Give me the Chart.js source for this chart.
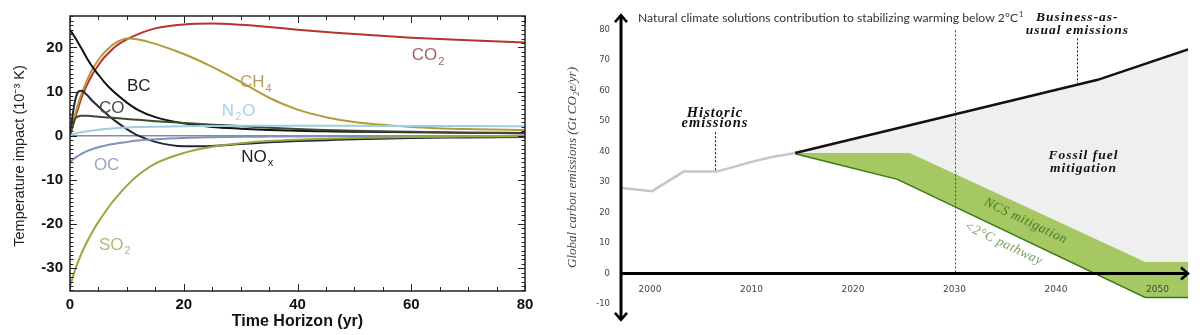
<!DOCTYPE html>
<html>
<head>
<meta charset="utf-8">
<script src="https://cdn.jsdelivr.net/npm/chart.js@4.4.1/dist/chart.umd.min.js"></script>
<style>
  html, body { margin: 0; padding: 0; background: #fff; }
  #wrap { position: relative; width: 1200px; height: 335px; overflow: hidden; }
  #impacto { position: absolute; left: 0; top: 0; }
  #emisiones { position: absolute; left: 550px; top: 0; }
</style>
</head>
<body>
<div id="wrap">
  <canvas id="impacto" width="550" height="335"></canvas>
  <canvas id="emisiones" width="650" height="335"></canvas>
</div>
<script>
// ---- temperature impact per species (10^-3 K) vs time horizon (yr)
var horizon = [0, 0.5, 1, 1.5, 2, 3, 4, 5, 6, 7, 8, 10, 12, 15, 20, 25, 30, 35, 40, 45, 50, 60, 70, 80];
var co2 = [0, 2.2, 4.5, 6.5, 8.5, 11.5, 14, 16, 17.7, 19, 20.2, 21.8, 23, 24.3, 25.2, 25.4, 25.1, 24.6, 24, 23.5, 23, 22.2, 21.6, 21.1];
var ch4 = [0, 2.8, 5.3, 7.5, 9.4, 12.6, 15.2, 17.2, 18.8, 20, 21, 22, 21.8, 20.8, 18.5, 15.6, 12.2, 8.6, 5.9, 4.2, 3.1, 2, 1.5, 1.3];
var bc  = [24, 23, 22, 20.9, 19.8, 17.5, 15.5, 13.8, 12.2, 10.8, 9.6, 7.5, 5.8, 4.2, 2.8, 2, 1.6, 1.3, 1.1, 1, 0.9, 0.8, 0.7, 0.6];
var nox = [0, 5, 8.5, 10, 10.2, 9.2, 7.8, 6.6, 5.4, 4.3, 3.3, 1.5, 0, -1.4, -2.4, -2.3, -1.9, -1.5, -1.2, -1, -0.8, -0.5, -0.4, -0.3];
var co  = [0, 2.5, 4, 4.4, 4.5, 4.5, 4.4, 4.3, 4.2, 4.1, 4, 3.8, 3.6, 3.3, 2.9, 2.5, 2.2, 1.8, 1.5, 1.3, 1.1, 0.9, 0.7, 0.5];
var n2o = [0, 0.3, 0.5, 0.7, 0.8, 1, 1.2, 1.35, 1.5, 1.6, 1.7, 1.85, 1.95, 2.05, 2.15, 2.2, 2.25, 2.25, 2.25, 2.25, 2.25, 2.2, 2.2, 2.15];
var oc  = [-6, -5.4, -4.9, -4.5, -4.1, -3.5, -3, -2.6, -2.3, -2, -1.8, -1.4, -1.1, -0.8, -0.5, -0.35, -0.25, -0.2, -0.15, -0.12, -0.1, -0.08, -0.06, -0.05];
var so2 = [-34, -32, -30, -28.3, -26.7, -24, -21.6, -19.5, -17.6, -15.8, -14.2, -11.3, -8.9, -6.3, -3.9, -2.5, -1.7, -1.2, -0.9, -0.7, -0.5, -0.3, -0.2, -0.1];

// where each species name sits (time, impact)
var speciesLabels = [
  { text: 'CO', sub: '2', t: 60.1, v: 18.1, color: '#a26262' },
  { text: 'BC', sub: '',  t: 10.0, v: 11.2, color: '#222222' },
  { text: 'CH', sub: '4', t: 29.9, v: 12.0, color: '#b59c5c' },
  { text: 'CO', sub: '',  t: 5.1,  v: 6.1,  color: '#4a4a4a' },
  { text: 'N', sub: '2', tail: 'O', t: 26.7, v: 5.5, color: '#a6d3e4' },
  { text: 'NO', sub: 'x', t: 30.1, v: -4.9, color: '#222222' },
  { text: 'OC', sub: '',  t: 4.2,  v: -6.7, color: '#98a6c2' },
  { text: 'SO', sub: '2', t: 5.1,  v: -24.7, color: '#b6b67c' }
];

// ---- global emissions (Gt CO2e/yr)
var histYears = [1997.2, 2000.2, 2003.3, 2006.6, 2010, 2012, 2014.3];
var histEmissions = [28, 27, 33.4, 33.4, 36.6, 38.2, 39.5];
var bauYears = [2014.3, 2044.1, 2053];
var bauEmissions = [39.5, 63.5, 73.5];
var ncsYears = [2014.3, 2025.6, 2048.8, 2053];
var ncsEmissions = [39.5, 39.5, 3.8, 3.8];
var pathYears = [2014.3, 2024.4, 2048.8, 2053];
var pathEmissions = [39.5, 31.1, -7.6, -7.6];

function pts(xs, ys) {
  return xs.map(function (x, i) { return { x: x, y: ys[i] }; });
}

function tensOnly(scale) {
  scale.ticks = scale.ticks.filter(function (t) { return Math.abs(t.value % 10) < 1e-6; });
}

Chart.defaults.font.family = '"Liberation Sans", Arial, sans-serif';

// ================= left chart =================
function serie(vals, color) {
  return { data: pts(horizon, vals), borderColor: color, borderWidth: 2, pointRadius: 0,
           fill: false, cubicInterpolationMode: 'monotone' };
}

var marco = {
  id: 'marco',
  beforeDatasetsDraw: function (chart) {
    var ctx = chart.ctx, a = chart.chartArea, ys = chart.scales.y;
    var y0 = ys.getPixelForValue(0);
    ctx.save();
    ctx.strokeStyle = '#8a86a6';
    ctx.lineWidth = 1.5;
    ctx.beginPath(); ctx.moveTo(a.left, y0); ctx.lineTo(a.right, y0); ctx.stroke();
    ctx.restore();
  },
  afterDraw: function (chart) {
    var ctx = chart.ctx, a = chart.chartArea, xs = chart.scales.x, ys = chart.scales.y;
    ctx.save();
    ctx.strokeStyle = '#222';
    ctx.lineWidth = 1.5;
    ctx.strokeRect(a.left, a.top, a.right - a.left, a.bottom - a.top);
    ctx.lineWidth = 1;
    ctx.beginPath();
    for (var t = 0; t <= 80; t += 5) {
      var px = Math.round(xs.getPixelForValue(t)) + 0.5;
      var len = t % 20 === 0 ? 7 : 4;
      ctx.moveTo(px, a.bottom); ctx.lineTo(px, a.bottom - len);
      ctx.moveTo(px, a.top); ctx.lineTo(px, a.top + len);
    }
    for (var v = -35; v <= 27; v++) {
      var py = Math.round(ys.getPixelForValue(v)) + 0.5;
      var l2 = v % 10 === 0 ? 7 : 3.5;
      ctx.moveTo(a.left, py); ctx.lineTo(a.left + l2, py);
      ctx.moveTo(a.right, py); ctx.lineTo(a.right - l2, py);
    }
    ctx.stroke();

    // axis title, drawn by hand so it can sit a little below centre
    ctx.save();
    ctx.translate(20, 156);
    ctx.rotate(-Math.PI / 2);
    ctx.textAlign = 'center';
    ctx.textBaseline = 'middle';
    ctx.fillStyle = '#222';
    ctx.font = '14.5px "Liberation Sans"';
    ctx.fillText('Temperature impact (10\u207B\u00B3 K)', 0, 0);
    ctx.restore();

    // species names
    ctx.textBaseline = 'middle';
    ctx.textAlign = 'left';
    speciesLabels.forEach(function (lb) {
      var x = xs.getPixelForValue(lb.t), y = ys.getPixelForValue(lb.v);
      ctx.fillStyle = lb.color;
      ctx.font = '17px "Liberation Sans"';
      ctx.fillText(lb.text, x, y);
      x += ctx.measureText(lb.text).width + 1;
      if (lb.sub) {
        ctx.font = '11px "Liberation Sans"';
        ctx.fillText(lb.sub, x, y + 6);
        x += ctx.measureText(lb.sub).width + 1;
      }
      if (lb.tail) {
        ctx.font = '17px "Liberation Sans"';
        ctx.fillText(lb.tail, x, y);
      }
    });
    ctx.restore();
  }
};

new Chart(document.getElementById('impacto'), {
  type: 'line',
  data: {
    datasets: [
      serie(so2, '#93aa3a'),
      serie(oc, '#7f93b8'),
      serie(n2o, '#9ccde0'),
      serie(co, '#3e4a32'),
      serie(nox, '#1e2440'),
      serie(bc, '#111111'),
      serie(ch4, '#b39b3c'),
      serie(co2, '#b8322a')
    ]
  },
  options: {
    responsive: false,
    animation: false,
    layout: { padding: { left: 0, right: 25, top: 6, bottom: 0 } },
    plugins: { legend: { display: false }, tooltip: { enabled: false } },
    scales: {
      x: {
        type: 'linear', min: 0, max: 80,
        ticks: { stepSize: 20, padding: 5, color: '#111', maxRotation: 0, font: { size: 15, weight: 'bold' } },
        grid: { display: false, drawTicks: false },
        border: { display: false },
        title: { display: true, text: 'Time Horizon (yr)', color: '#111',
                 font: { size: 16, weight: 'bold' }, padding: { top: 0, bottom: 4 } },
        afterFit: function (s) { s.height = 44; }
      },
      y: {
        min: -35.15, max: 27.1,
        afterBuildTicks: tensOnly,
        ticks: { stepSize: 10, padding: 7, color: '#111', font: { size: 15, weight: 'bold' } },
        grid: { display: false, drawTicks: false },
        border: { display: false },
        afterFit: function (s) { s.width = 70; }
      }
    }
  },
  plugins: [marco]
});

// ================= right chart =================
var notas = {
  id: 'notas',
  afterDatasetsDraw: function (chart) {
    var ctx = chart.ctx, a = chart.chartArea, xs = chart.scales.x, ys = chart.scales.y;
    function X(v) { return xs.getPixelForValue(v); }
    function Y(v) { return ys.getPixelForValue(v); }
    var y0 = Y(0);
    ctx.save();

    // 2030 marker and leader lines
    ctx.strokeStyle = '#444';
    ctx.lineWidth = 1;
    ctx.setLineDash([2, 2]);
    ctx.beginPath();
    ctx.moveTo(Math.round(X(2030)) + 0.5, Y(79.7)); ctx.lineTo(Math.round(X(2030)) + 0.5, y0);
    ctx.stroke();
    ctx.strokeStyle = '#111';
    ctx.beginPath();
    ctx.moveTo(Math.round(X(2006.4)) + 0.5, Y(46.3)); ctx.lineTo(Math.round(X(2006.4)) + 0.5, Y(33.8));
    ctx.moveTo(Math.round(X(2042.1)) + 0.5, Y(77.1)); ctx.lineTo(Math.round(X(2042.1)) + 0.5, Y(62.4));
    ctx.stroke();
    ctx.setLineDash([]);

    // axes with arrow heads
    ctx.strokeStyle = '#000';
    ctx.lineWidth = 3;
    ctx.beginPath();
    ctx.moveTo(a.left, a.top - 1); ctx.lineTo(a.left, a.bottom + 1);
    ctx.moveTo(a.left, y0); ctx.lineTo(a.right, y0);
    ctx.stroke();
    ctx.lineWidth = 2.5;
    ctx.lineJoin = 'miter';
    ctx.beginPath();
    ctx.moveTo(a.left - 6, a.top + 6); ctx.lineTo(a.left, a.top - 1); ctx.lineTo(a.left + 6, a.top + 6);
    ctx.moveTo(a.left - 6, a.bottom - 6); ctx.lineTo(a.left, a.bottom + 1); ctx.lineTo(a.left + 6, a.bottom - 6);
    ctx.moveTo(a.right - 7, y0 - 6); ctx.lineTo(a.right, y0); ctx.lineTo(a.right - 7, y0 + 6);
    ctx.stroke();

    // title
    ctx.fillStyle = '#333';
    ctx.textBaseline = 'middle';
    ctx.textAlign = 'left';
    var titulo = 'Natural climate solutions contribution to stabilizing warming below 2\u00B0C';
    ctx.font = '12.2px Lato';
    ctx.fillText(titulo, a.left + 17, 18);
    var tw = ctx.measureText(titulo).width;
    ctx.font = '7.5px Lato';
    ctx.fillText('1', a.left + 18 + tw, 15);

    // serif annotations
    ctx.textAlign = 'center';
    ctx.fillStyle = '#111';
    ctx.letterSpacing = '1px';
    ctx.font = 'italic bold 14.5px "Liberation Serif"';
    ctx.fillText('Historic', X(2006.4), Y(52.7));
    ctx.fillText('emissions', X(2006.4), Y(49.2));
    ctx.font = 'italic bold 13.5px "Liberation Serif"';
    ctx.fillText('Business-as-', X(2042.1), Y(83.8));
    ctx.fillText('usual emissions', X(2042.1), Y(79.7));
    ctx.fillText('Fossil fuel', X(2042.7), Y(38.6));
    ctx.fillText('mitigation', X(2042.7), Y(34.5));

    // slanted labels along the pathway
    var ang = Math.atan2(Y(-7.6) - Y(31.1), X(2048.8) - X(2024.4));
    ctx.letterSpacing = '0.5px';
    ctx.font = 'italic 13.5px "Liberation Serif"';
    ctx.save();
    ctx.translate(X(2037.0), Y(17.2));
    ctx.rotate(ang);
    ctx.fillStyle = '#4a7a2a';
    ctx.fillText('NCS mitigation', 0, 0);
    ctx.restore();
    ctx.save();
    ctx.translate(X(2034.8), Y(9.8));
    ctx.rotate(ang);
    ctx.fillStyle = '#76a058';
    ctx.fillText('<2\u00B0C pathway', 0, 0);
    ctx.restore();
    ctx.letterSpacing = '0px';
    ctx.restore();
  }
};

new Chart(document.getElementById('emisiones'), {
  type: 'line',
  data: {
    datasets: [
      { data: pts(histYears, histEmissions), borderColor: '#c6c6c6', borderWidth: 2.5, pointRadius: 0, fill: false },
      { data: pts(bauYears, bauEmissions), borderColor: '#111', borderWidth: 2.5, pointRadius: 0,
        fill: '+1', backgroundColor: '#efefef' },
      { data: pts(ncsYears, ncsEmissions), borderColor: '#a5c862', borderWidth: 1, pointRadius: 0,
        fill: '+1', backgroundColor: '#a5c862' },
      { data: pts(pathYears, pathEmissions), borderColor: '#3a7818', borderWidth: 3, pointRadius: 0, fill: false }
    ]
  },
  options: {
    responsive: false,
    animation: false,
    layout: { padding: { left: 0, right: 12, top: 12, bottom: 10 } },
    plugins: { legend: { display: false }, tooltip: { enabled: false } },
    scales: {
      x: {
        type: 'linear', position: { y: 0 }, min: 1997.14, max: 2053,
        afterBuildTicks: tensOnly,
        ticks: { stepSize: 10, padding: 11, color: '#444', maxRotation: 0, includeBounds: false,
                 autoSkip: false, z: 1, font: { family: '"DejaVu Sans"', size: 9 },
                 callback: function (v) { return String(v); } },
        grid: { display: false, drawTicks: false },
        border: { display: false }
      },
      y: {
        min: -14.9, max: 84.4,
        afterBuildTicks: tensOnly,
        ticks: { stepSize: 10, padding: 11, color: '#444', includeBounds: false,
                 font: { family: '"DejaVu Sans"', size: 8.5 } },
        grid: { display: false, drawTicks: false },
        border: { display: false },
        title: { display: true, text: 'Global carbon emissions (Gt CO\u2082e/yr)', color: '#444',
                 font: { family: '"Liberation Serif"', style: 'italic', size: 13 }, padding: { top: 15, bottom: 0 } },
        afterFit: function (s) { s.width = 71; }
      }
    }
  },
  plugins: [notas]
});
</script>
</body>
</html>
